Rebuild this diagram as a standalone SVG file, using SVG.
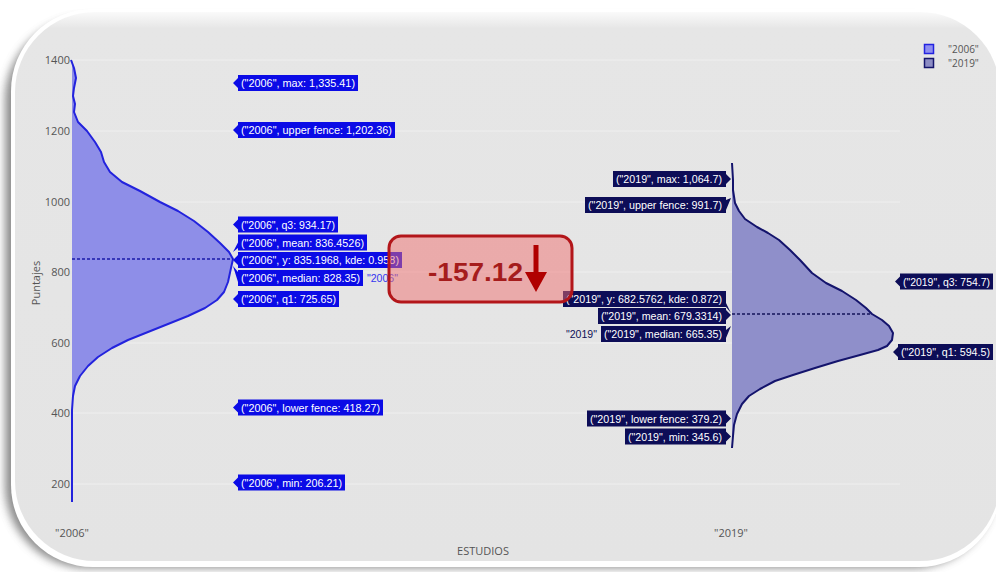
<svg xmlns="http://www.w3.org/2000/svg" width="996" height="572" viewBox="0 0 996 572">
<defs>
<filter id="sh" x="-5%" y="-5%" width="110%" height="115%"><feGaussianBlur stdDeviation="4"/></filter>
<linearGradient id="topglow" x1="0" y1="0" x2="0" y2="1">
<stop offset="0" stop-color="#fafafa"/><stop offset="0.03" stop-color="#e6e6e6"/><stop offset="1" stop-color="#e4e4e4"/>
</linearGradient>
<style>
.tick{font-family:"Open Sans","Liberation Sans",sans-serif;font-size:11px;fill:#555;text-anchor:end}
.ax{font-family:"Open Sans","Liberation Sans",sans-serif;font-size:11px;fill:#555;text-anchor:middle}
.lb{font-family:"Liberation Sans","Open Sans",sans-serif;font-size:10.5px;fill:#fff}
.b6{fill:#0b0be6}
.b9{fill:#0d0d57}
.grid{stroke:#efefef;stroke-width:1}
</style>
</defs>
<rect width="996" height="572" fill="#fff"/>
<rect x="5" y="18" width="990" height="550" rx="82" fill="#666" opacity="0.75" filter="url(#sh)"/>
<rect x="11" y="9" width="990" height="558" rx="82" fill="#fff"/>
<rect x="15" y="12" width="985" height="549" rx="80" fill="url(#topglow)"/>

<g id="grid">
<line class="grid" x1="72" y1="60" x2="900" y2="60"/>
<line class="grid" x1="72" y1="131" x2="900" y2="131"/>
<line class="grid" x1="72" y1="202" x2="900" y2="202"/>
<line class="grid" x1="72" y1="272" x2="900" y2="272"/>
<line class="grid" x1="72" y1="343" x2="900" y2="343"/>
<line class="grid" x1="72" y1="413" x2="900" y2="413"/>
<line class="grid" x1="72" y1="484" x2="900" y2="484"/>
</g>
<g id="axes">
<text class="tick" x="70" y="64">1400</text>
<text class="tick" x="70" y="135">1200</text>
<text class="tick" x="70" y="206">1000</text>
<text class="tick" x="70" y="276">800</text>
<text class="tick" x="70" y="347">600</text>
<text class="tick" x="70" y="417">400</text>
<text class="tick" x="70" y="488">200</text>
<text class="ax" x="72" y="537">"2006"</text>
<text class="ax" x="731" y="537">"2019"</text>
<text class="ax" x="483" y="555">ESTUDIOS</text>
<text class="ax" x="0" y="0" transform="translate(40,283) rotate(-90)">Puntajes</text>
</g>

<g id="violin-2006">
<path d="M72,60 L74,68 L76,78 L74,88 L73,96 L75,104 L74,112 L78,122 L87,131 L95,142 L101,152 L104,162 L110,172 L122,182 L140,191 L160,202 L178,211 L194,221 L208,232 L220,243 L229,252 L233,259 L231,268 L228,282 L224,292 L217,300 L205,308 L188,316 L168,324 L148,332 L128,340 L112,348 L98,357 L88,366 L80,376 L75,386 L73,396 L72,410 L72,502 Z" fill="#8e8ee8"/>
<path d="M71,60 L74,68 L76,78 L74,88 L73,96 L75,104 L74,112 L78,122 L87,131 L95,142 L101,152 L104,162 L110,172 L122,182 L140,191 L160,202 L178,211 L194,221 L208,232 L220,243 L229,252 L233,259 L231,268 L228,282 L224,292 L217,300 L205,308 L188,316 L168,324 L148,332 L128,340 L112,348 L98,357 L88,366 L80,376 L75,386 L73,396 L72,410 L72,502" fill="none" stroke="#2323dd" stroke-width="2" stroke-linejoin="round"/>
</g>
<g id="violin-2019">
<path d="M732,163 L733,180 L733,190 L735,203 L739,211 L745,219 L757,227 L768,233 L779,240 L790,250 L800,260 L812,273 L826,283 L842,291 L856,300 L866,308 L872,314 L882,320 L889,326 L893,333 L892,340 L887,346 L878,350 L860,355 L838,361 L815,368 L793,375 L775,381 L760,389 L749,396 L742,404 L737,414 L734,425 L733,436 L732,448 Z" fill="#8f8fca"/>
<path d="M732,163 L733,180 L733,190 L735,203 L739,211 L745,219 L757,227 L768,233 L779,240 L790,250 L800,260 L812,273 L826,283 L842,291 L856,300 L866,308 L872,314 L882,320 L889,326 L893,333 L892,340 L887,346 L878,350 L860,355 L838,361 L815,368 L793,375 L775,381 L760,389 L749,396 L742,404 L737,414 L734,425 L733,436 L732,448" fill="none" stroke="#14146c" stroke-width="2" stroke-linejoin="round"/>
</g>
<g id="connectors">
<line x1="72" y1="259" x2="233" y2="259" stroke="#1a1aa8" stroke-width="1.5" stroke-dasharray="3,2"/>
<line x1="732" y1="314" x2="872" y2="314" stroke="#14145a" stroke-width="1.5" stroke-dasharray="3,2"/>
</g>

<g id="labels-2006">
<g id="l06-max"><path class="b6" d="M233,83 L238,78 L238,75 L358,75 L358,91 L238,91 L238,88 Z"/><text class="lb" x="241" y="87" textLength="114" lengthAdjust="spacingAndGlyphs">("2006", max: 1,335.41)</text></g>
<g id="l06-uf"><path class="b6" d="M233,130 L238,125 L238,122 L395,122 L395,138 L238,138 L238,135 Z"/><text class="lb" x="241" y="134" textLength="151" lengthAdjust="spacingAndGlyphs">("2006", upper fence: 1,202.36)</text></g>
<g id="l06-q3"><path class="b6" d="M233,224.5 L238,219.5 L238,216.5 L338,216.5 L338,232.5 L238,232.5 L238,229.5 Z"/><text class="lb" x="241" y="228.5" textLength="94" lengthAdjust="spacingAndGlyphs">("2006", q3: 934.17)</text></g>
<g id="l06-mean"><path class="b6" d="M233,252 L238,242.5 L238,234.5 L367,234.5 L367,250.5 L238,250.5 L238,248 Z"/><text class="lb" x="241" y="246.5" textLength="123" lengthAdjust="spacingAndGlyphs">("2006", mean: 836.4526)</text></g>
<g id="l06-y"><path class="b6" d="M233,260 L238,255 L238,252 L402,252 L402,268 L238,268 L238,265 Z"/><text class="lb" x="241" y="264" textLength="158" lengthAdjust="spacingAndGlyphs">("2006", y: 835.1968, kde: 0.958)</text></g>
<g id="l06-median"><path class="b6" d="M233,266 L238,272 L238,270 L363,270 L363,286 L238,286 L238,282 Z"/><text class="lb" x="241" y="282" textLength="119" lengthAdjust="spacingAndGlyphs">("2006", median: 828.35)</text><text x="367" y="282" font-family="Liberation Sans, sans-serif" font-size="10.5" fill="#3535f0" textLength="31" lengthAdjust="spacingAndGlyphs">"2006"</text></g>
<g id="l06-q1"><path class="b6" d="M233,299 L238,294 L238,291 L339,291 L339,307 L238,307 L238,304 Z"/><text class="lb" x="241" y="303" textLength="95" lengthAdjust="spacingAndGlyphs">("2006", q1: 725.65)</text></g>
<g id="l06-lf"><path class="b6" d="M233,407.5 L238,402.5 L238,399.5 L383,399.5 L383,415.5 L238,415.5 L238,412.5 Z"/><text class="lb" x="241" y="411.5" textLength="139" lengthAdjust="spacingAndGlyphs">("2006", lower fence: 418.27)</text></g>
<g id="l06-min"><path class="b6" d="M233,482.5 L238,477.5 L238,474.5 L345,474.5 L345,490.5 L238,490.5 L238,487.5 Z"/><text class="lb" x="241" y="486.5" textLength="101" lengthAdjust="spacingAndGlyphs">("2006", min: 206.21)</text></g>
</g>

<g id="labels-2019">
<g id="l19-max"><path class="b9" d="M731,179 L726,174 L726,171 L613,171 L613,187 L726,187 L726,184 Z"/><text class="lb" x="616" y="183" textLength="106" lengthAdjust="spacingAndGlyphs">("2019", max: 1,064.7)</text></g>
<g id="l19-uf"><path class="b9" d="M731,198 L726,200 L726,197 L585,197 L585,213 L726,213 L726,210 Z"/><text class="lb" x="588" y="209" textLength="134" lengthAdjust="spacingAndGlyphs">("2019", upper fence: 991.7)</text></g>
<g id="l19-y"><path class="b9" d="M731,313 L726,303 L726,291 L563,291 L563,307 L726,307 Z"/><text class="lb" x="566" y="303" textLength="156" lengthAdjust="spacingAndGlyphs">("2019", y: 682.5762, kde: 0.872)</text></g>
<g id="l19-mean"><path class="b9" d="M731,315 L726,310 L726,308 L598,308 L598,324 L726,324 L726,320 Z"/><text class="lb" x="601" y="320" textLength="121" lengthAdjust="spacingAndGlyphs">("2019", mean: 679.3314)</text></g>
<g id="l19-median"><path class="b9" d="M731,326 L726,330 L726,326 L601,326 L601,342 L726,342 L726,338 Z"/><text class="lb" x="604" y="338" textLength="118" lengthAdjust="spacingAndGlyphs">("2019", median: 665.35)</text><text x="566" y="338" font-family="Liberation Sans, sans-serif" font-size="10.5" fill="#101055" textLength="31" lengthAdjust="spacingAndGlyphs">"2019"</text></g>
<g id="l19-lf"><path class="b9" d="M731,418.5 L726,413.5 L726,410.5 L587,410.5 L587,426.5 L726,426.5 L726,423.5 Z"/><text class="lb" x="590" y="422.5" textLength="132" lengthAdjust="spacingAndGlyphs">("2019", lower fence: 379.2)</text></g>
<g id="l19-min"><path class="b9" d="M731,436.5 L726,431.5 L726,428.5 L625,428.5 L625,444.5 L726,444.5 L726,441.5 Z"/><text class="lb" x="628" y="440.5" textLength="94" lengthAdjust="spacingAndGlyphs">("2019", min: 345.6)</text></g>
<g id="l19-q3"><path class="b9" d="M895,281.5 L900,276.5 L900,273.5 L993,273.5 L993,289.5 L900,289.5 L900,286.5 Z"/><text class="lb" x="903" y="285.5" textLength="87" lengthAdjust="spacingAndGlyphs">("2019", q3: 754.7)</text></g>
<g id="l19-q1"><path class="b9" d="M893,352 L898,347 L898,344 L993,344 L993,360 L898,360 L898,357 Z"/><text class="lb" x="901" y="356" textLength="89" lengthAdjust="spacingAndGlyphs">("2019", q1: 594.5)</text></g>
</g>

<g id="legend">
<rect x="924.5" y="44.5" width="9" height="9" fill="#8e8ef0" stroke="#2323e0" stroke-width="1.5"/>
<text x="948" y="53" font-family="Open Sans, Liberation Sans, sans-serif" font-size="10" fill="#555">"2006"</text>
<rect x="924.5" y="58.5" width="9" height="9" fill="#8c8cc4" stroke="#14146c" stroke-width="1.5"/>
<text x="948" y="67" font-family="Open Sans, Liberation Sans, sans-serif" font-size="10" fill="#555">"2019"</text>
</g>

<g id="diff-box">
<rect x="389" y="236" width="183" height="66" rx="12" fill="#f07070" fill-opacity="0.5" stroke="#b3161a" stroke-width="3"/>
<text x="428" y="281" font-family="Liberation Sans, Arial, sans-serif" font-weight="bold" font-size="26" fill="#a51c1c" textLength="95" lengthAdjust="spacingAndGlyphs">-157.12</text>
<path d="M533.5,245 L538.5,245 L538.5,272 L547,272 L536,292 L525,272 L533.5,272 Z" fill="#b00000"/>
</g>
</svg>
